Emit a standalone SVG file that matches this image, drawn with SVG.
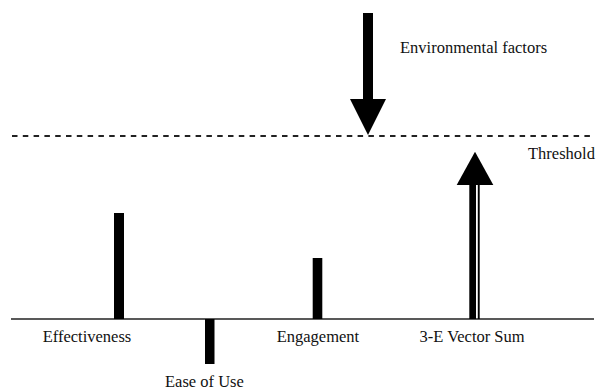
<svg xmlns="http://www.w3.org/2000/svg" width="597" height="390" viewBox="0 0 597 390">
<style>
.lbl{font-family:"Liberation Serif","Times New Roman",serif;font-size:16.5px;fill:#111}
.bar{fill:#000}
</style>
<rect width="597" height="390" fill="#fff"/>
<g id="connectors">
<line id="threshold-line" x1="12" y1="136" x2="594" y2="136" stroke="#222" stroke-width="2" stroke-dasharray="5.5 5.3"/>
<line id="baseline" x1="11" y1="319" x2="594" y2="319" stroke="#222" stroke-width="1.6"/>
<g id="env-arrow">
<rect class="bar" x="363" y="13" width="10" height="87"/>
<polygon class="bar" points="350,99 386,99 368,135"/>
</g>
<g id="sum-arrow">
<rect class="bar" x="469.3" y="184" width="6.7" height="135"/>
<rect class="bar" x="477.8" y="184" width="1.9" height="135"/>
<polygon class="bar" points="456.7,185 493.3,185 475,151.7"/>
</g>
</g>
<g id="effectiveness">
<rect class="bar" x="114" y="213" width="10" height="106"/>
<text class="lbl" x="42.7" y="341.7">Effectiveness</text>
</g>
<g id="ease-of-use">
<rect class="bar" x="205" y="319" width="9.5" height="45"/>
<text class="lbl" x="165" y="386.7">Ease of Use</text>
</g>
<g id="engagement">
<rect class="bar" x="312.7" y="258" width="9.6" height="61"/>
<text class="lbl" x="276.7" y="341.7">Engagement</text>
</g>
<g id="vector-sum">
<text class="lbl" x="419.5" y="341.7">3-E Vector Sum</text>
</g>
<g id="environmental-factors">
<text class="lbl" x="400" y="52.7">Environmental factors</text>
</g>
<g id="threshold">
<text class="lbl" x="528" y="159">Threshold</text>
</g>
</svg>
